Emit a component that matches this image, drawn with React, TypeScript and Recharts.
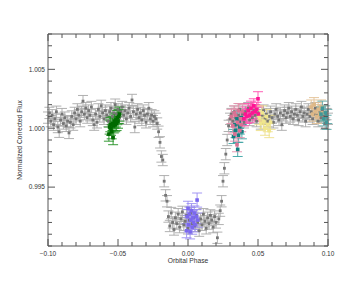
import { ScatterChart, Scatter, XAxis, YAxis, ErrorBar, Label } from "recharts";

// gray light curve, one point every 0.001 in phase starting at -0.100
const GRAY_START = -0.1;
const GRAY_STEP = 0.001;
const GRAY_ERR = 0.00048;
const GRAY_FLUX = [
  1.0009, 1.0013, 1.0006, 1.0011, 1.0003, 1.0008, 1.0014, 1.0001, 0.9997, 1.0007,
  1.0012, 1.0004, 1.0009, 1.0002, 1.0006, 0.9996, 1.0005, 1.001, 1.0003, 1.0013,
  1.0008, 1.0016, 1.0011, 1.0006, 1.0014, 1.0023, 1.0012, 1.0017, 1.0009, 1.0015,
  1.0011, 1.0018, 1.0007, 1.0003, 1.0012, 1.0005, 1.0016, 1.001, 1.0019, 1.0013,
  1.0008, 1.0015, 1.0011, 1.0006, 1.0014, 1.0017, 1.001, 1.0013, 1.002, 1.0012,
  1.0016, 1.0009, 1.0014, 1.0018, 1.0011, 1.0015, 1.0008, 1.0013, 1.0017, 1.001,
  1.0024, 1.0014, 1.0001, 1.0012, 1.0016, 1.0009, 1.0013, 1.0007, 1.0015, 1.0011,
  1.0005, 1.0012, 1.0017, 1.0008, 1.0011, 1.0006, 1.001, 1.0008,
  // ingress
  1.0004, 0.9997, 0.9988, 0.9976, 0.9973, 0.9955, 0.9943, 0.9938,
  // bottom
  0.9925, 0.9917, 0.9928, 0.992, 0.9914, 0.9924, 0.9919, 0.9927, 0.9916, 0.9923,
  0.9929, 0.9918, 0.9921, 0.9926, 0.9915, 0.9922, 0.9928, 0.9919, 0.9924, 0.9917,
  0.9926, 0.992, 0.9913, 0.9923, 0.9918, 0.9927, 0.9921, 0.9915, 0.9924, 0.9919,
  0.9926, 0.9922, 0.9916, 0.9925, 0.992, 0.9907, 0.9923,
  // egress
  0.993, 0.9938, 0.9955, 0.9966, 0.9978, 0.999, 1.0002, 1.0008,
  // after
  1.0012, 1.0006, 1.0014, 1.0009, 1.0003, 1.0011, 1.0016, 1.0008, 1.0012, 1.0005,
  1.0014, 1.001, 1.0017, 1.0007, 1.0012, 1.0009, 1.0015, 1.0011, 1.0006, 1.0013,
  1.0009, 1.0004, 1.0011, 1.0015, 1.0008, 1.0012, 1.0006, 1.001, 1.0014, 1.0009,
  1.0005, 1.0012, 1.0016, 1.001, 1.0007, 1.0013, 1.0003, 1.0011, 1.0015, 1.0009,
  1.0013, 1.0017, 1.001, 1.0014, 1.0008, 1.0012, 1.0016, 1.0011, 1.0007, 1.0014,
  1.0018, 1.001, 1.0013, 1.0006, 1.0012, 1.0016, 1.001, 1.0014, 1.0008, 1.0012,
  1.0017, 1.0011, 1.0006, 1.0013, 1.0009, 1.0015, 1.001, 1.0004, 1.0012, 1.0008,
];

const GREEN_PHASE = [-0.0565, -0.056, -0.0555, -0.055, -0.0545, -0.054, -0.0535, -0.053, -0.0525, -0.052, -0.0515, -0.051, -0.0505, -0.05, -0.0495, -0.049];
const GREEN_FLUX = [0.9995, 1.0001, 1.0003, 1.0, 0.9997, 1.0004, 0.9992, 1.0002, 1.0006, 1.0003, 1.0007, 1.0004, 1.0009, 1.0006, 1.001, 1.0012];

const PURPLE_PHASE = [-0.001, -0.0005, 0, 0.0005, 0.001, 0.0015, 0.002, 0.0025, 0.003, 0.0035, 0.004, 0.0045, 0.005, 0.006, 0.0065, 0.007];
const PURPLE_FLUX = [0.9913, 0.9925, 0.9932, 0.9918, 0.9927, 0.9912, 0.9922, 0.993, 0.9916, 0.9924, 0.992, 0.9928, 0.9918, 0.9925, 0.9939, 0.9922];

const TEAL_PHASE = [0.0325, 0.0335, 0.034, 0.035, 0.0355, 0.036, 0.0365, 0.037, 0.038, 0.0385];
const TEAL_FLUX = [0.9993, 1.0003, 0.9998, 1.0008, 0.9982, 0.9994, 1.0006, 1.0001, 1.0009, 0.9997];

const PINK_PHASE = [0.031, 0.032, 0.033, 0.0335, 0.034, 0.035, 0.0355, 0.036, 0.037, 0.0375, 0.038, 0.039];
const PINK_FLUX = [1.001, 1.0002, 1.0013, 0.9995, 1.0011, 0.9986, 1.0005, 1.0015, 0.9998, 1.0008, 1.0003, 1.0014];

const MAGENTA_PHASE = [0.04, 0.041, 0.042, 0.043, 0.044, 0.045, 0.046, 0.047, 0.048, 0.049, 0.05, 0.0505];
const MAGENTA_FLUX = [1.0008, 1.0012, 1.001, 1.0015, 1.0011, 1.0017, 1.0013, 1.0019, 1.0014, 1.0016, 1.0025, 1.0012];

const KHAKI_PHASE = [0.051, 0.052, 0.053, 0.054, 0.055, 0.056, 0.057, 0.058, 0.059];
const KHAKI_FLUX = [1.0009, 1.0004, 1.0013, 1.0006, 1.0, 1.001, 1.0003, 0.9998, 1.0005];

const TAN_PHASE = [0.088, 0.089, 0.09, 0.091, 0.092, 0.093, 0.094, 0.095, 0.096];
const TAN_FLUX = [1.0018, 1.0012, 1.002, 1.0014, 1.001, 1.0016, 1.0012, 1.0018, 1.0013];

const CADET_PHASE = [0.095, 0.096, 0.097, 0.098, 0.099, 0.0995];
const CADET_FLUX = [1.0012, 1.0017, 1.0008, 1.0013, 1.0005, 1.001];

const COLOR_ERR = 0.0006;

const X_TICKS = [-0.1, -0.09, -0.08, -0.07, -0.06, -0.05, -0.04, -0.03, -0.02, -0.01, 0, 0.01, 0.02, 0.03, 0.04, 0.05, 0.06, 0.07, 0.08, 0.09, 0.1];
const X_MAJOR = [-0.1, -0.05, 0, 0.05, 0.1];
const X_LABELS = ["\u22120.10", "\u22120.05", "0.00", "0.05", "0.10"];
const Y_TICKS = [0.99, 0.991, 0.992, 0.993, 0.994, 0.995, 0.996, 0.997, 0.998, 0.999, 1.0, 1.001, 1.002, 1.003, 1.004, 1.005, 1.006, 1.007, 1.008];
const Y_MAJOR = [0.995, 1.0, 1.005];
const Y_LABELS = ["0.995", "1.000", "1.005"];

const AXIS = "#555555";
const FONT = "'Liberation Sans', Arial, sans-serif";

const majorIndex = (list: number[], v: number) => list.findIndex((m) => Math.abs(m - v) < 1e-6);

const pts = (phase: number[], flux: number[], err: number) =>
  phase.map((p, i) => ({ phase: p, flux: flux[i], err }));

const grayData = GRAY_FLUX.map((f, i) => ({
  phase: +(GRAY_START + i * GRAY_STEP).toFixed(4),
  flux: f,
  err: GRAY_ERR,
}));

const square = (size: number, fill: string) => (p: any) =>
  <rect x={p.cx - size / 2} y={p.cy - size / 2} width={size} height={size} fill={fill} />;

const BottomTick = (props: any) => {
  const { x, y, payload } = props;
  const k = majorIndex(X_MAJOR, payload.value);
  const len = k >= 0 ? 7 : 4;
  return (
    <g>
      <line x1={x} x2={x} y1={y} y2={y - len} stroke={AXIS} />
      {k >= 0 && (
        <text x={x} y={y + 10} textAnchor="middle" fontSize={6.5} fill="#333" fontFamily={FONT}>
          {X_LABELS[k]}
        </text>
      )}
    </g>
  );
};

const TopTick = (props: any) => {
  const { x, y, payload } = props;
  const len = majorIndex(X_MAJOR, payload.value) >= 0 ? 7 : 4;
  return <line x1={x} x2={x} y1={y} y2={y + len} stroke={AXIS} />;
};

const LeftTick = (props: any) => {
  const { x, y, payload } = props;
  const k = majorIndex(Y_MAJOR, payload.value);
  const len = k >= 0 ? 7 : 4;
  return (
    <g>
      <line x1={x} x2={x + len} y1={y} y2={y} stroke={AXIS} />
      {k >= 0 && (
        <text x={x - 3} y={y + 2.3} textAnchor="end" fontSize={6.5} fill="#333" fontFamily={FONT}>
          {Y_LABELS[k]}
        </text>
      )}
    </g>
  );
};

const RightTick = (props: any) => {
  const { x, y, payload } = props;
  const len = majorIndex(Y_MAJOR, payload.value) >= 0 ? 7 : 4;
  return <line x1={x} x2={x - len} y1={y} y2={y} stroke={AXIS} />;
};

const series = [
  { name: "green", data: pts(GREEN_PHASE, GREEN_FLUX, COLOR_ERR), color: "#006a00", bar: "#1f8f1f" },
  { name: "purple", data: pts(PURPLE_PHASE, PURPLE_FLUX, COLOR_ERR), color: "#7b68ee", bar: "#9a8cf2" },
  { name: "teal", data: pts(TEAL_PHASE, TEAL_FLUX, COLOR_ERR), color: "#107f80", bar: "#3aa3a3" },
  { name: "pink", data: pts(PINK_PHASE, PINK_FLUX, COLOR_ERR), color: "#db7093", bar: "#e58fab" },
  { name: "magenta", data: pts(MAGENTA_PHASE, MAGENTA_FLUX, COLOR_ERR), color: "#ff1493", bar: "#ff4fae" },
  { name: "khaki", data: pts(KHAKI_PHASE, KHAKI_FLUX, COLOR_ERR), color: "#f0e68c", bar: "#ede08a" },
  { name: "tan", data: pts(TAN_PHASE, TAN_FLUX, COLOR_ERR), color: "#deb887", bar: "#e3c194" },
  { name: "cadet", data: pts(CADET_PHASE, CADET_FLUX, COLOR_ERR), color: "#3f9797", bar: "#5aa8a8" },
];

export default function App() {
  return (
    <div style={{ position: "absolute", left: 0, top: 0, background: "#fff" }}>
      <ScatterChart width={356} height={285} margin={{ top: 33, right: 27, bottom: 38, left: 47 }}>
        <XAxis
          xAxisId="b"
          type="number"
          dataKey="phase"
          domain={[-0.1, 0.1]}
          ticks={X_TICKS}
          interval={0}
          allowDataOverflow
          height={1}
          tickLine={false}
          tickSize={0}
          tickMargin={0}
          axisLine={{ stroke: AXIS }}
          tick={<BottomTick />}
        >
          <Label
            content={(p: any) => (
              <text
                x={p.viewBox.x + p.viewBox.width / 2}
                y={p.viewBox.y + 17}
                textAnchor="middle"
                fontSize={6.7}
                fill="#333"
                fontFamily={FONT}
              >
                Orbital Phase
              </text>
            )}
          />
        </XAxis>
        <XAxis
          xAxisId="t"
          orientation="top"
          type="number"
          dataKey="phase"
          domain={[-0.1, 0.1]}
          ticks={X_TICKS}
          interval={0}
          allowDataOverflow
          height={1}
          tickLine={false}
          tickSize={0}
          tickMargin={0}
          axisLine={{ stroke: AXIS }}
          tick={<TopTick />}
        />
        <YAxis
          yAxisId="l"
          type="number"
          dataKey="flux"
          domain={[0.99, 1.008]}
          ticks={Y_TICKS}
          interval={0}
          allowDataOverflow
          width={1}
          tickLine={false}
          tickSize={0}
          tickMargin={0}
          axisLine={{ stroke: AXIS }}
          tick={<LeftTick />}
        >
          <Label
            content={(p: any) => {
              const cx = p.viewBox.x - 25;
              const cy = p.viewBox.y + p.viewBox.height / 2;
              return (
                <text
                  x={cx}
                  y={cy}
                  transform={`rotate(-90 ${cx} ${cy})`}
                  textAnchor="middle"
                  fontSize={6.7}
                  fill="#333"
                  fontFamily={FONT}
                >
                  Normalized Corrected Flux
                </text>
              );
            }}
          />
        </YAxis>
        <YAxis
          yAxisId="r"
          orientation="right"
          type="number"
          dataKey="flux"
          domain={[0.99, 1.008]}
          ticks={Y_TICKS}
          interval={0}
          allowDataOverflow
          width={1}
          tickLine={false}
          tickSize={0}
          tickMargin={0}
          axisLine={{ stroke: AXIS }}
          tick={<RightTick />}
        />
        <Scatter
          xAxisId="b"
          yAxisId="l"
          data={grayData}
          isAnimationActive={false}
          shape={square(2.8, "#767676")}
        >
          <ErrorBar dataKey="err" direction="y" width={5} stroke="#a8a8a8" strokeWidth={0.9} />
        </Scatter>
        {series.map((s) => (
          <Scatter
            key={s.name}
            xAxisId="b"
            yAxisId="l"
            data={s.data}
            isAnimationActive={false}
            shape={square(3.6, s.color)}
          >
            <ErrorBar dataKey="err" direction="y" width={5} stroke={s.bar} strokeWidth={0.9} />
          </Scatter>
        ))}
      </ScatterChart>
    </div>
  );
}
